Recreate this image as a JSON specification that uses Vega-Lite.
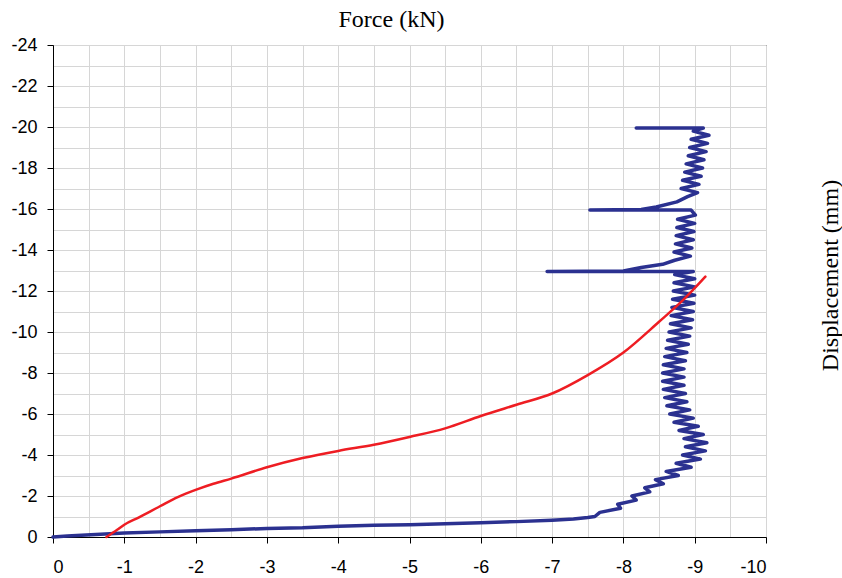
{
  "$schema": "https://vega.github.io/schema/vega-lite/v6.json",
  "width": 713,
  "height": 492,
  "autosize": "none",
  "padding": {"left": 53, "top": 45, "right": 76, "bottom": 41},
  "background": "white",
  "config": {
    "view": {"stroke": "#000000", "strokeWidth": 1},
    "axis": {"labelFont": "Liberation Sans", "labelFontSize": 18, "labelColor": "#000", "titleFont": "Liberation Serif", "titleFontSize": 24, "titleFontWeight": "normal", "titleColor": "#000", "domainColor": "#000", "tickColor": "#000", "gridColor": "#d6d6d6", "gridWidth": 1}
  },
  "data": {"values": [
    {"s": "blue", "i": 1, "x": 0, "y": 0},
    {"s": "blue", "i": 2, "x": -0.2, "y": -0.05},
    {"s": "blue", "i": 3, "x": -0.6, "y": -0.12},
    {"s": "blue", "i": 4, "x": -1.0, "y": -0.2},
    {"s": "blue", "i": 5, "x": -1.5, "y": -0.25},
    {"s": "blue", "i": 6, "x": -2.0, "y": -0.3},
    {"s": "blue", "i": 7, "x": -2.5, "y": -0.35},
    {"s": "blue", "i": 8, "x": -3.0, "y": -0.42},
    {"s": "blue", "i": 9, "x": -3.5, "y": -0.45},
    {"s": "blue", "i": 10, "x": -4.0, "y": -0.52},
    {"s": "blue", "i": 11, "x": -4.5, "y": -0.57},
    {"s": "blue", "i": 12, "x": -5.0, "y": -0.6},
    {"s": "blue", "i": 13, "x": -5.5, "y": -0.65},
    {"s": "blue", "i": 14, "x": -6.0, "y": -0.7},
    {"s": "blue", "i": 15, "x": -6.5, "y": -0.75},
    {"s": "blue", "i": 16, "x": -7.0, "y": -0.82},
    {"s": "blue", "i": 17, "x": -7.3, "y": -0.88},
    {"s": "blue", "i": 18, "x": -7.5, "y": -0.95},
    {"s": "blue", "i": 19, "x": -7.6, "y": -1.0},
    {"s": "blue", "i": 20, "x": -7.67, "y": -1.2},
    {"s": "blue", "i": 21, "x": -7.96, "y": -1.4},
    {"s": "blue", "i": 22, "x": -7.92, "y": -1.6},
    {"s": "blue", "i": 23, "x": -8.18, "y": -1.8},
    {"s": "blue", "i": 24, "x": -8.12, "y": -2.0},
    {"s": "blue", "i": 25, "x": -8.37, "y": -2.2},
    {"s": "blue", "i": 26, "x": -8.30, "y": -2.4},
    {"s": "blue", "i": 27, "x": -8.56, "y": -2.6},
    {"s": "blue", "i": 28, "x": -8.45, "y": -2.8},
    {"s": "blue", "i": 29, "x": -8.77, "y": -3.0},
    {"s": "blue", "i": 30, "x": -8.6, "y": -3.2},
    {"s": "blue", "i": 31, "x": -8.95, "y": -3.4},
    {"s": "blue", "i": 32, "x": -8.74, "y": -3.6},
    {"s": "blue", "i": 33, "x": -9.08, "y": -3.8},
    {"s": "blue", "i": 34, "x": -8.83, "y": -4.0},
    {"s": "blue", "i": 35, "x": -9.15, "y": -4.2},
    {"s": "blue", "i": 36, "x": -8.87, "y": -4.4},
    {"s": "blue", "i": 37, "x": -9.17, "y": -4.6},
    {"s": "blue", "i": 38, "x": -8.85, "y": -4.8},
    {"s": "blue", "i": 39, "x": -9.12, "y": -5.0},
    {"s": "blue", "i": 40, "x": -8.78, "y": -5.2},
    {"s": "blue", "i": 41, "x": -9.05, "y": -5.4},
    {"s": "blue", "i": 42, "x": -8.71, "y": -5.6},
    {"s": "blue", "i": 43, "x": -8.98, "y": -5.8},
    {"s": "blue", "i": 44, "x": -8.65, "y": -6.0},
    {"s": "blue", "i": 45, "x": -8.93, "y": -6.2},
    {"s": "blue", "i": 46, "x": -8.61, "y": -6.4},
    {"s": "blue", "i": 47, "x": -8.89, "y": -6.6},
    {"s": "blue", "i": 48, "x": -8.58, "y": -6.8},
    {"s": "blue", "i": 49, "x": -8.87, "y": -7.0},
    {"s": "blue", "i": 50, "x": -8.56, "y": -7.2},
    {"s": "blue", "i": 51, "x": -8.85, "y": -7.4},
    {"s": "blue", "i": 52, "x": -8.55, "y": -7.6},
    {"s": "blue", "i": 53, "x": -8.85, "y": -7.8},
    {"s": "blue", "i": 54, "x": -8.55, "y": -8.0},
    {"s": "blue", "i": 55, "x": -8.85, "y": -8.2},
    {"s": "blue", "i": 56, "x": -8.56, "y": -8.4},
    {"s": "blue", "i": 57, "x": -8.87, "y": -8.6},
    {"s": "blue", "i": 58, "x": -8.58, "y": -8.8},
    {"s": "blue", "i": 59, "x": -8.89, "y": -9.0},
    {"s": "blue", "i": 60, "x": -8.6, "y": -9.2},
    {"s": "blue", "i": 61, "x": -8.91, "y": -9.4},
    {"s": "blue", "i": 62, "x": -8.62, "y": -9.6},
    {"s": "blue", "i": 63, "x": -8.93, "y": -9.8},
    {"s": "blue", "i": 64, "x": -8.64, "y": -10.0},
    {"s": "blue", "i": 65, "x": -8.95, "y": -10.2},
    {"s": "blue", "i": 66, "x": -8.66, "y": -10.4},
    {"s": "blue", "i": 67, "x": -8.97, "y": -10.6},
    {"s": "blue", "i": 68, "x": -8.67, "y": -10.8},
    {"s": "blue", "i": 69, "x": -8.98, "y": -11.0},
    {"s": "blue", "i": 70, "x": -8.68, "y": -11.2},
    {"s": "blue", "i": 71, "x": -8.99, "y": -11.4},
    {"s": "blue", "i": 72, "x": -8.69, "y": -11.6},
    {"s": "blue", "i": 73, "x": -9.0, "y": -11.8},
    {"s": "blue", "i": 74, "x": -8.70, "y": -12.0},
    {"s": "blue", "i": 75, "x": -9.0, "y": -12.2},
    {"s": "blue", "i": 76, "x": -8.71, "y": -12.4},
    {"s": "blue", "i": 77, "x": -9.0, "y": -12.6},
    {"s": "blue", "i": 78, "x": -8.72, "y": -12.8},
    {"s": "blue", "i": 79, "x": -8.98, "y": -12.95},
    {"s": "blue", "i": 80, "x": -6.93, "y": -12.95},
    {"s": "blue", "i": 81, "x": -8.0, "y": -12.98},
    {"s": "blue", "i": 82, "x": -8.25, "y": -13.15},
    {"s": "blue", "i": 83, "x": -8.55, "y": -13.3},
    {"s": "blue", "i": 84, "x": -8.72, "y": -13.5},
    {"s": "blue", "i": 85, "x": -8.94, "y": -13.7},
    {"s": "blue", "i": 86, "x": -8.71, "y": -13.9},
    {"s": "blue", "i": 87, "x": -8.96, "y": -14.1},
    {"s": "blue", "i": 88, "x": -8.73, "y": -14.3},
    {"s": "blue", "i": 89, "x": -8.98, "y": -14.5},
    {"s": "blue", "i": 90, "x": -8.74, "y": -14.7},
    {"s": "blue", "i": 91, "x": -8.99, "y": -14.9},
    {"s": "blue", "i": 92, "x": -8.75, "y": -15.1},
    {"s": "blue", "i": 93, "x": -9.0, "y": -15.3},
    {"s": "blue", "i": 94, "x": -8.76, "y": -15.5},
    {"s": "blue", "i": 95, "x": -9.01, "y": -15.7},
    {"s": "blue", "i": 96, "x": -8.95, "y": -15.95},
    {"s": "blue", "i": 97, "x": -7.53, "y": -15.95},
    {"s": "blue", "i": 98, "x": -8.25, "y": -15.98},
    {"s": "blue", "i": 99, "x": -8.46, "y": -16.1},
    {"s": "blue", "i": 100, "x": -8.75, "y": -16.35},
    {"s": "blue", "i": 101, "x": -8.9, "y": -16.6},
    {"s": "blue", "i": 102, "x": -9.04, "y": -16.8},
    {"s": "blue", "i": 103, "x": -8.81, "y": -17.0},
    {"s": "blue", "i": 104, "x": -9.06, "y": -17.2},
    {"s": "blue", "i": 105, "x": -8.83, "y": -17.4},
    {"s": "blue", "i": 106, "x": -9.09, "y": -17.6},
    {"s": "blue", "i": 107, "x": -8.86, "y": -17.8},
    {"s": "blue", "i": 108, "x": -9.11, "y": -18.0},
    {"s": "blue", "i": 109, "x": -8.88, "y": -18.2},
    {"s": "blue", "i": 110, "x": -9.13, "y": -18.4},
    {"s": "blue", "i": 111, "x": -8.91, "y": -18.6},
    {"s": "blue", "i": 112, "x": -9.16, "y": -18.8},
    {"s": "blue", "i": 113, "x": -8.93, "y": -19.0},
    {"s": "blue", "i": 114, "x": -9.18, "y": -19.2},
    {"s": "blue", "i": 115, "x": -8.95, "y": -19.4},
    {"s": "blue", "i": 116, "x": -9.2, "y": -19.6},
    {"s": "blue", "i": 117, "x": -8.98, "y": -19.8},
    {"s": "blue", "i": 118, "x": -9.12, "y": -19.95},
    {"s": "blue", "i": 119, "x": -8.18, "y": -19.95},
    {"s": "red", "i": 1, "x": -0.75, "y": 0},
    {"s": "red", "i": 2, "x": -0.9, "y": -0.35},
    {"s": "red", "i": 3, "x": -1.0, "y": -0.6},
    {"s": "red", "i": 4, "x": -1.2, "y": -0.95},
    {"s": "red", "i": 5, "x": -1.5, "y": -1.5},
    {"s": "red", "i": 6, "x": -1.75, "y": -1.95},
    {"s": "red", "i": 7, "x": -2.0, "y": -2.3},
    {"s": "red", "i": 8, "x": -2.25, "y": -2.6},
    {"s": "red", "i": 9, "x": -2.5, "y": -2.85},
    {"s": "red", "i": 10, "x": -3.0, "y": -3.4},
    {"s": "red", "i": 11, "x": -3.5, "y": -3.85},
    {"s": "red", "i": 12, "x": -4.0, "y": -4.2},
    {"s": "red", "i": 13, "x": -4.5, "y": -4.5},
    {"s": "red", "i": 14, "x": -5.0, "y": -4.88},
    {"s": "red", "i": 15, "x": -5.5, "y": -5.3},
    {"s": "red", "i": 16, "x": -6.0, "y": -5.9},
    {"s": "red", "i": 17, "x": -6.5, "y": -6.45},
    {"s": "red", "i": 18, "x": -7.0, "y": -7.0},
    {"s": "red", "i": 19, "x": -7.5, "y": -7.9},
    {"s": "red", "i": 20, "x": -8.0, "y": -9.0},
    {"s": "red", "i": 21, "x": -8.5, "y": -10.5},
    {"s": "red", "i": 22, "x": -8.85, "y": -11.6},
    {"s": "red", "i": 23, "x": -9.15, "y": -12.7}
  ]},
  "encoding": {
    "x": {
      "field": "x", "type": "quantitative",
      "scale": {"domain": [-10, 0], "reverse": true, "nice": false, "zero": false},
      "axis": {
        "values": [0, -0.5, -1, -1.5, -2, -2.5, -3, -3.5, -4, -4.5, -5, -5.5, -6, -6.5, -7, -7.5, -8, -8.5, -9, -9.5, -10],
        "labelExpr": "datum.value % 1 === 0 ? '' + datum.value : ''",
        "tickOpacity": {"condition": {"test": "datum.value % 1 !== 0", "value": 0}, "value": 1},
        "tickSize": 6,
        "labelPadding": 15,
        "title": "Force (kN)",
        "titleX": 338,
        "titleY": -518,
        "titleAlign": "center",
        "titleBaseline": "middle"
      }
    },
    "y": {
      "field": "y", "type": "quantitative",
      "scale": {"domain": [-24, 0], "reverse": true, "nice": false, "zero": false},
      "axis": {
        "values": [0, -1, -2, -3, -4, -5, -6, -7, -8, -9, -10, -11, -12, -13, -14, -15, -16, -17, -18, -19, -20, -21, -22, -23, -24],
        "labelExpr": "datum.value % 2 === 0 ? '' + datum.value : ''",
        "tickOpacity": {"condition": {"test": "datum.value % 2 !== 0", "value": 0}, "value": 1},
        "tickSize": 6,
        "labelPadding": 10,
        "title": "Displacement (mm)",
        "titleX": 777,
        "titleY": 230,
        "titleAngle": -90,
        "titleAlign": "center",
        "titleBaseline": "middle"
      }
    },
    "order": {"field": "i", "type": "quantitative"}
  },
  "layer": [
    {
      "transform": [{"filter": "datum.s === 'blue'"}],
      "mark": {"type": "line", "strokeJoin": "round", "strokeCap": "round", "color": "#2B3190", "strokeWidth": 3.5}
    },
    {
      "transform": [{"filter": "datum.s === 'red'"}],
      "mark": {"type": "line", "interpolate": "monotone", "strokeCap": "round", "color": "#EE1D23", "strokeWidth": 2.5}
    }
  ]
}
